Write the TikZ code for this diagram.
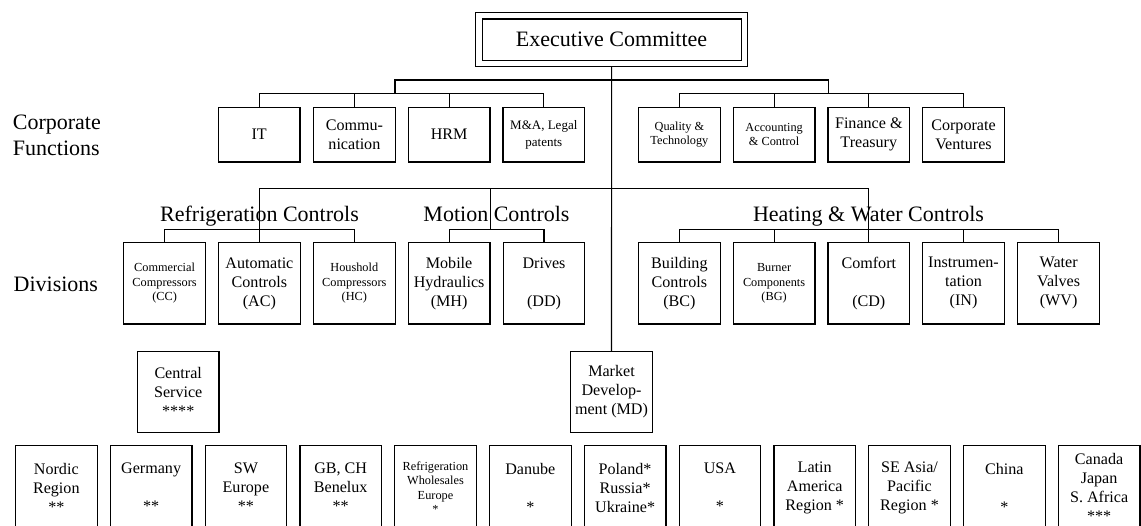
\documentclass[tikz,border=0pt]{standalone}
\usepackage{fontspec}
\setmainfont{Liberation Serif}
\newcommand\fbig{\fontsize{22}{25.5}\selectfont}
\newcommand\fnrm{\fontsize{16.1}{19}\selectfont}
\newcommand\fsml{\fontsize{12.3}{14.4}\selectfont}
\newcommand\fma{\fontsize{13}{17}\selectfont}
\begin{document}
\begin{tikzpicture}[x=1pt,y=-1pt,
  box/.style={draw, line width=1.2pt, inner sep=0pt, minimum width=81.6pt, align=center, font=\fnrm},
  cfbox/.style={box, minimum height=54.7pt},
  dvbox/.style={box, minimum height=81.3pt},
  midbox/.style={box, minimum height=80.6pt},
  rgbox/.style={box, minimum height=83.6pt},
  sml/.style={font=\fsml},
  conn/.style={line width=1.1pt},
  title/.style={inner sep=0pt, font=\fbig, anchor=base}]
\useasboundingbox (0,0) rectangle (1141,525);

% Executive committee
\node[draw, line width=1.2pt, double, double distance=5.3pt, minimum width=265.5pt,
      minimum height=47.85pt, inner sep=0pt, outer sep=3.5pt, font=\fbig] (exec) at (611.6,39.6) {Executive Committee};

% Corporate functions
\node[cfbox] (it) at (259.2,134.7) {IT};
\node[cfbox] (comm) at (354.4,134.7) {Commu-\\nication};
\node[cfbox] (hrm) at (449.1,134.7) {HRM};
\node[cfbox, font=\fma] (ma) at (543.8,134.7) {M\&A, Legal\\patents};
\node[cfbox, sml] (qt) at (679.4,134.7) {Quality \&\\Technology};
\node[cfbox, sml] (acc) at (774.1,134.7) {Accounting\\\& Control};
\node[cfbox] (fin) at (868.8,134.7) {Finance \&\\Treasury};
\node[cfbox] (cv) at (963.5,134.7) {Corporate\\Ventures};

% Divisions
\node[dvbox, sml] (cc) at (164.6,283.4) {Commercial\\Compressors\\(CC)};
\node[dvbox] (ac) at (259.4,283.4) {Automatic\\Controls\\(AC)};
\node[dvbox, sml] (hc) at (354.3,283.4) {Houshold\\Compressors\\(HC)};
\node[dvbox] (mh) at (449.1,283.4) {Mobile\\Hydraulics\\(MH)};
\node[dvbox] (dd) at (544,283.4) {Drives\\\mbox{}\\(DD)};
\node[dvbox] (bc) at (679.4,283.4) {Building\\Controls\\(BC)};
\node[dvbox, sml] (bg) at (774.1,283.4) {Burner\\Components\\(BG)};
\node[dvbox] (cd) at (868.8,283.4) {Comfort\\\mbox{}\\(CD)};
\node[dvbox] (instr) at (963.5,283.4) {Instrumen-\\tation\\(IN)};
\node[dvbox] (wv) at (1058.6,283.4) {Water\\Valves\\(WV)};

% Central service and market development
\node[midbox] (cs) at (178.2,392) {Central\\Service\\****};
\node[midbox] (md) at (611.5,392) {Market\\Develop-\\ment (MD)};

% Regions
\node[rgbox] (r0) at (56.3,487.5) {Nordic\\Region\\**};
\node[rgbox] (r1) at (151.1,487.5) {Germany\\\mbox{}\\**};
\node[rgbox] (r2) at (245.9,487.5) {SW\\Europe\\**};
\node[rgbox] (r3) at (340.7,487.5) {GB, CH\\Benelux\\**};
\node[rgbox, sml] (r4) at (435.5,487.5) {Refrigeration\\Wholesales\\Europe\\*};
\node[rgbox] (r5) at (530.3,487.5) {Danube\\\mbox{}\\*};
\node[rgbox] (r6) at (625.1,487.5) {Poland*\\Russia*\\Ukraine*};
\node[rgbox] (r7) at (719.9,487.5) {USA\\\mbox{}\\*};
\node[rgbox] (r8) at (814.7,487.5) {Latin\\America\\Region *};
\node[rgbox] (r9) at (909.5,487.5) {SE Asia/\\Pacific\\Region *};
\node[rgbox] (r10) at (1004.3,487.5) {China\\\mbox{}\\*};
\node[rgbox] (r11) at (1099.1,487.5) {Canada\\Japan\\S. Africa\\***};

% Left labels and group titles
\node[inner sep=0pt, anchor=north west, align=left, font=\fontsize{22}{26}\selectfont] (lcf) at (12.7,115) {Corporate\\Functions};
\node[inner sep=0pt, anchor=base west, font=\fbig] (ldiv) at (13.5,291.5) {Divisions};
\node[title] (trc) at (259.5,221) {Refrigeration Controls};
\node[title] (tmc) at (496.5,221) {Motion Controls};
\node[title] (thw) at (868.5,221) {Heating \& Water Controls};

% Connectors
\coordinate (cfL) at (395,80);
\coordinate (cfR) at (828.2,80);
\coordinate (cfLs) at (395,93.3);
\coordinate (cfRs) at (828.2,93.3);
\draw[conn] (exec.south) -- (md.north);
\draw[conn] (cfLs) -- (cfL) -- (cfR) -- (cfRs);
\draw[conn] (it.north) -- (it.north |- cfLs) -- (ma.north |- cfLs) -- (ma.north);
\draw[conn] (comm.north) -- (comm.north |- cfLs);
\draw[conn] (hrm.north) -- (hrm.north |- cfLs);
\draw[conn] (qt.north) -- (qt.north |- cfRs) -- (cv.north |- cfRs) -- (cv.north);
\draw[conn] (acc.north) -- (acc.north |- cfRs);
\draw[conn] (fin.north) -- (fin.north |- cfRs);

\coordinate (ybus) at (0,188.7);
\coordinate (ysub) at (0,229.3);
\coordinate (mcj) at (490.2,188.7);
\draw[conn] (ac.north) -- (ac.north |- ybus) -- (cd.north |- ybus) -- (cd.north);
\draw[conn] (cc.north) -- (cc.north |- ysub) -- (hc.north |- ysub) -- (hc.north);
\draw[conn] (mcj) -- (mcj |- ysub);
\draw[conn] (mh.north) -- (mh.north |- ysub) -- (dd.north |- ysub) -- (dd.north);
\draw[conn] (bc.north) -- (bc.north |- ysub) -- (wv.north |- ysub) -- (wv.north);
\draw[conn] (bg.north) -- (bg.north |- ysub);
\draw[conn] (instr.north) -- (instr.north |- ysub);
\end{tikzpicture}
\end{document}
